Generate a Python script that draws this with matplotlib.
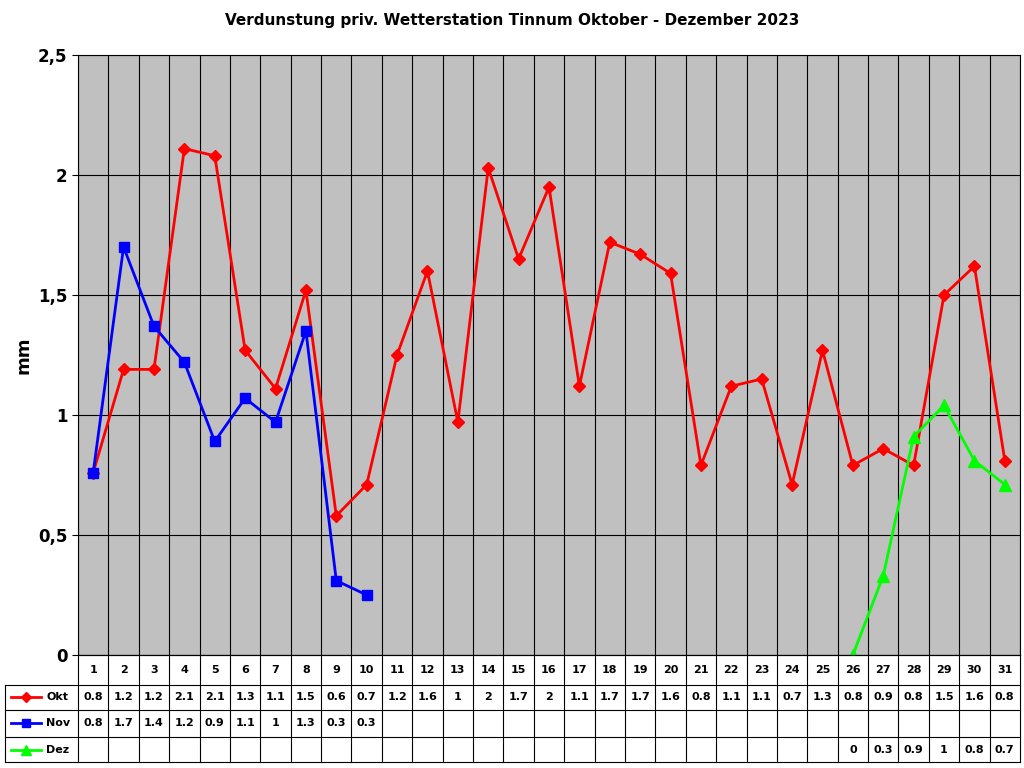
import matplotlib
matplotlib.use("Agg")
import matplotlib.pyplot as plt
from matplotlib.lines import Line2D

days = list(range(1, 32))
okt = [0.76,1.19,1.19,2.11,2.08,1.27,1.11,1.52,0.58,0.71,1.25,1.6,0.97,2.03,1.65,1.95,1.12,1.72,1.67,1.59,0.79,1.12,1.15,0.71,1.27,0.79,0.86,0.79,1.5,1.62,0.81]
nov = [0.76,1.70,1.37,1.22,0.89,1.07,0.97,1.35,0.31,0.25]
dez_days = [26,27,28,29,30,31]
dez = [0.0,0.33,0.91,1.04,0.81,0.71]
okt_tab = ["0.8","1.2","1.2","2.1","2.1","1.3","1.1","1.5","0.6","0.7","1.2","1.6","1","2","1.7","2","1.1","1.7","1.7","1.6","0.8","1.1","1.1","0.7","1.3","0.8","0.9","0.8","1.5","1.6","0.8"]
nov_tab = ["0.8","1.7","1.4","1.2","0.9","1.1","1","1.3","0.3","0.3"]
dez_tab = ["0","0.3","0.9","1","0.8","0.7"]
yticks = [0,0.5,1,1.5,2,2.5]
ytick_labels = ["0","0,5","1","1,5","2","2,5"]
series = [("Okt", "#FF0000", "D", 6), ("Nov", "#0000FF", "s", 7), ("Dez", "#00FF00", "^", 8)]

W, H = 1024, 768
fig = plt.figure(figsize=(W/100, H/100), dpi=100)
L, R, T, B = 78, 1020, 55, 655
ax = fig.add_axes([L/W, 1-B/H, (R-L)/W, (B-T)/H])
ax.set_facecolor("#C0C0C0")
ax.set_xlim(0.5, 31.5); ax.set_ylim(0, 2.5)
for i in range(32):
    ax.axvline(i+0.5, color="black", lw=0.8)
for y in yticks:
    ax.axhline(y, color="black", lw=0.8)
ax.plot(days, okt, color=series[0][1], marker="D", ms=6, lw=2)
ax.plot(days[:len(nov)], nov, color=series[1][1], marker="s", ms=7, lw=2)
ax.plot(dez_days, dez, color=series[2][1], marker="^", ms=8, lw=2)
ax.set_xticks([])
ax.set_yticks(yticks)
ax.set_yticklabels(ytick_labels, fontsize=12, fontweight="bold")
ax.tick_params(axis="y", length=4)
ax.set_ylabel("mm", fontsize=13, fontweight="bold")
for s in ax.spines.values():
    s.set_color("black")
fig.text(0.5, 1-20/H, "Verdunstung priv. Wetterstation Tinnum Oktober - Dezember 2023",
         ha="center", va="center", fontsize=11, fontweight="bold")

# table
tT, tB = 655, 762
tax = fig.add_axes([L/W, 1-tB/H, (R-L)/W, (tB-tT)/H])
tax.set_xlim(0.5, 31.5); tax.set_ylim(4, 0)
tax.axis("off")
rows_y = [0, 1.12, 2.05, 3.07, 4]
xl = 0.5 - 73/((R-L)/31)
kw = dict(color="black", lw=0.8, clip_on=False)
for i in range(32):
    tax.plot([i+0.5, i+0.5], [0, 4], **kw)
tax.plot([xl, xl], [rows_y[1], 4], **kw)
tax.plot([0.5, 31.5], [0, 0], **kw)
for y in rows_y[1:]:
    tax.plot([xl, 31.5], [y, y], **kw)
for d in days:
    tax.text(d, 0.56, str(d), ha="center", va="center", fontsize=8, fontweight="bold")
tabs = [(days, okt_tab), (days[:len(nov_tab)], nov_tab), (dez_days, dez_tab)]
for r, ((name, col, mk, ms), (dd, vals)) in enumerate(zip(series, tabs)):
    yc = (rows_y[r+1] + rows_y[r+2]) / 2
    tax.add_line(Line2D([xl+0.2, xl+1.2], [yc, yc], color=col, lw=2, clip_on=False))
    tax.plot([xl+0.7], [yc], color=col, marker=mk, ms=ms-1, clip_on=False)
    tax.text(xl+1.35, yc, name, ha="left", va="center", fontsize=8, fontweight="bold")
    for d, v in zip(dd, vals):
        tax.text(d, yc, v, ha="center", va="center", fontsize=8, fontweight="bold")

fig.savefig("out.png", dpi=100)
